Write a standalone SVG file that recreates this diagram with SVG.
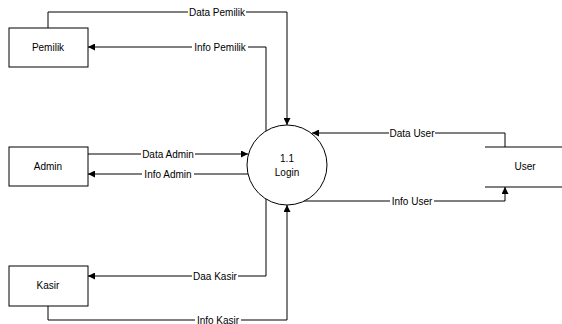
<svg xmlns="http://www.w3.org/2000/svg" width="562" height="324" viewBox="0 0 562 324">
<style>
.box{fill:#fff;stroke:#000;stroke-width:1}
.ln{fill:none;stroke:#000;stroke-width:1}
.t{font-family:"Liberation Sans",Arial,sans-serif;font-size:10px;fill:#000;text-anchor:middle;dominant-baseline:central}
.lb{fill:#fff}
</style>
<defs>
<marker id="ar" viewBox="0 0 10 10" refX="10" refY="5" markerWidth="8" markerHeight="7" markerUnits="userSpaceOnUse" orient="auto">
<path d="M0,0 L10,5 L0,10 z" fill="#000"/>
</marker>
</defs>
<rect width="562" height="324" fill="#fff"/>
<g id="connectors">
<path class="ln" d="M48,28 V12 H287 V125" marker-end="url(#ar)"/>
<path class="ln" d="M266,131 V47 H88" marker-end="url(#ar)"/>
<path class="ln" d="M88,154 H248" marker-end="url(#ar)"/>
<path class="ln" d="M248,174 H88" marker-end="url(#ar)"/>
<path class="ln" d="M266,199 V276 H88" marker-end="url(#ar)"/>
<path class="ln" d="M48,306 V320 H287 V205" marker-end="url(#ar)"/>
<path class="ln" d="M505,147 V133 H312" marker-end="url(#ar)"/>
<path class="ln" d="M303,201 H505 V187" marker-end="url(#ar)"/>
<rect class="lb" x="188" y="6" width="58" height="12"/>
<text class="t" x="217" y="12">Data Pemilik</text>
<rect class="lb" x="192" y="41" width="56" height="12"/>
<text class="t" x="220" y="47">Info Pemilik</text>
<rect class="lb" x="141" y="148" width="54" height="12"/>
<text class="t" x="168" y="154">Data Admin</text>
<rect class="lb" x="142" y="168" width="52" height="12"/>
<text class="t" x="168" y="174">Info Admin</text>
<rect class="lb" x="192" y="270" width="46" height="12"/>
<text class="t" x="215" y="276">Daa Kasir</text>
<rect class="lb" x="195" y="314" width="46" height="12"/>
<text class="t" x="218" y="320">Info Kasir</text>
<rect class="lb" x="389" y="127" width="46" height="12"/>
<text class="t" x="412" y="133">Data User</text>
<rect class="lb" x="390" y="195" width="44" height="12"/>
<text class="t" x="412" y="201">Info User</text>
</g>
<g id="pemilik">
<rect class="box" x="9" y="28" width="79" height="39"/>
<text class="t" x="48" y="47">Pemilik</text>
</g>
<g id="admin">
<rect class="box" x="9" y="147" width="79" height="39"/>
<text class="t" x="48" y="166">Admin</text>
</g>
<g id="kasir">
<rect class="box" x="9" y="266" width="79" height="40"/>
<text class="t" x="48" y="285">Kasir</text>
</g>
<g id="login">
<circle class="box" cx="287" cy="165" r="40"/>
<text class="t" x="287" y="158">1.1</text>
<text class="t" x="287" y="172">Login</text>
</g>
<g id="user">
<line class="ln" x1="485" y1="147" x2="562" y2="147"/>
<line class="ln" x1="485" y1="187" x2="562" y2="187"/>
<text class="t" x="525" y="166">User</text>
</g>
</svg>
